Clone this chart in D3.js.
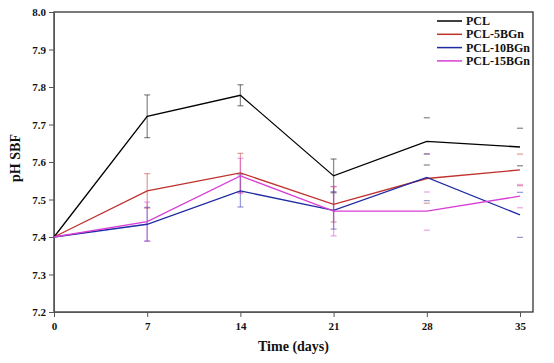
<!DOCTYPE html>
<html>
<head>
<meta charset="utf-8">
<script src="https://cdn.jsdelivr.net/npm/d3@7"></script>
<style>
body { margin: 0; background: #fff; }
text { font-family: "Liberation Serif", "Times New Roman", serif; font-weight: bold; }
</style>
</head>
<body>
<script>
const days = [0, 7, 14, 21, 28, 35]
const yTicks = [7.2, 7.3, 7.4, 7.5, 7.6, 7.7, 7.8, 7.9, 8.0]
const seriesNames = ['PCL', 'PCL-5BGn', 'PCL-10BGn', 'PCL-15BGn']
const pcl = [7.40, 7.722, 7.778, 7.563, 7.655, 7.640]
const pcl5 = [7.40, 7.523, 7.571, 7.487, 7.556, 7.579]
const pcl10 = [7.40, 7.434, 7.523, 7.471, 7.559, 7.459]
const pcl15 = [7.40, 7.441, 7.563, 7.469, 7.469, 7.509]
const errPcl = [0, 0.057, 0.028, 0.045, 0.063, 0.05]
const errPcl5 = [0, 0.046, 0.052, 0.047, 0.066, 0.042]
const errPcl10 = [0, 0.045, 0.043, 0.05, 0.062, 0.06]
const errPcl15 = [0, 0.052, 0.047, 0.066, 0.051, 0.031]
// days where the stem of the error bar is drawn (later ones only show caps)
const stemDays = [7, 14, 21]

const colors = ['#000000', '#c0312e', '#1f2aa3', '#d93ed6']
const values = [pcl, pcl5, pcl10, pcl15]
const errs = [errPcl, errPcl5, errPcl10, errPcl15]

const width = 554, height = 363
const margin = { top: 12, left: 54, right: 21, bottom: 51 }

const svg = d3.select('body').append('svg').attr('width', width).attr('height', height)

const x = d3.scaleLinear().domain([0, 35]).range([margin.left, 520])
const y = d3.scaleLinear().domain([7.2, 8.0]).range([height - margin.bottom, margin.top])

// frame
svg.append('rect')
	.attr('x', margin.left).attr('y', margin.top)
	.attr('width', width - margin.right - margin.left)
	.attr('height', height - margin.bottom - margin.top)
	.attr('fill', 'none').attr('stroke', '#222').attr('stroke-width', 1.2)

const xAxis = svg.append('g')
	.attr('transform', 'translate(0,' + (height - margin.bottom) + ')')
	.call(d3.axisBottom(x).tickValues(days).tickSize(5).tickPadding(5))
xAxis.select('.domain').attr('stroke', '#555')
xAxis.selectAll('.tick line').attr('stroke', '#555')
xAxis.selectAll('text').attr('font-size', 11).attr('fill', '#111')

const yAxis = svg.append('g')
	.attr('transform', 'translate(' + margin.left + ',0)')
	.call(d3.axisLeft(y).tickValues(yTicks).tickFormat(d3.format('.1f')).tickSize(5).tickPadding(3))
yAxis.select('.domain').attr('stroke', '#555')
yAxis.selectAll('.tick line').attr('stroke', '#555')
yAxis.selectAll('text').attr('font-size', 11).attr('fill', '#111')

svg.append('text')
	.attr('x', (margin.left + width - margin.right) / 2).attr('y', 351)
	.attr('text-anchor', 'middle').attr('font-size', 14).attr('fill', '#111')
	.text('Time (days)')

svg.append('text')
	.attr('transform', 'translate(20,' + 158 + ') rotate(-90)')
	.attr('text-anchor', 'middle').attr('font-size', 14).attr('fill', '#111')
	.text('pH SBF')

// error bars
values.forEach((vals, si) => {
	const g = svg.append('g').attr('stroke', colors[si]).attr('stroke-opacity', 0.45).attr('stroke-width', 1.3)
	days.forEach((d, i) => {
		const e = errs[si][i]
		if (!e) return
		const cx = x(d)
		if (stemDays.includes(d)) {
			g.append('line').attr('x1', cx).attr('x2', cx)
				.attr('y1', y(vals[i] - e)).attr('y2', y(vals[i] + e))
		}
		;[vals[i] - e, vals[i] + e].forEach(v => {
			g.append('line').attr('x1', cx - 3).attr('x2', cx + 3)
				.attr('y1', y(v)).attr('y2', y(v))
		})
	})
})

// lines
const line = d3.line().x((d, i) => x(days[i])).y(d => y(d))
values.forEach((vals, si) => {
	svg.append('path').datum(vals)
		.attr('fill', 'none').attr('stroke', colors[si]).attr('stroke-width', 1.3)
		.attr('d', line)
})

// legend
const legend = svg.append('g').attr('transform', 'translate(437,21)')
seriesNames.forEach((name, i) => {
	const row = legend.append('g').attr('transform', 'translate(0,' + i * 13.3 + ')')
	row.append('line').attr('x1', 0).attr('x2', 25).attr('y1', 0).attr('y2', 0)
		.attr('stroke', colors[i]).attr('stroke-width', 1.5)
	row.append('text').attr('x', 29).attr('y', 4).attr('font-size', 12).attr('fill', '#111').text(name)
})
</script>
</body>
</html>
